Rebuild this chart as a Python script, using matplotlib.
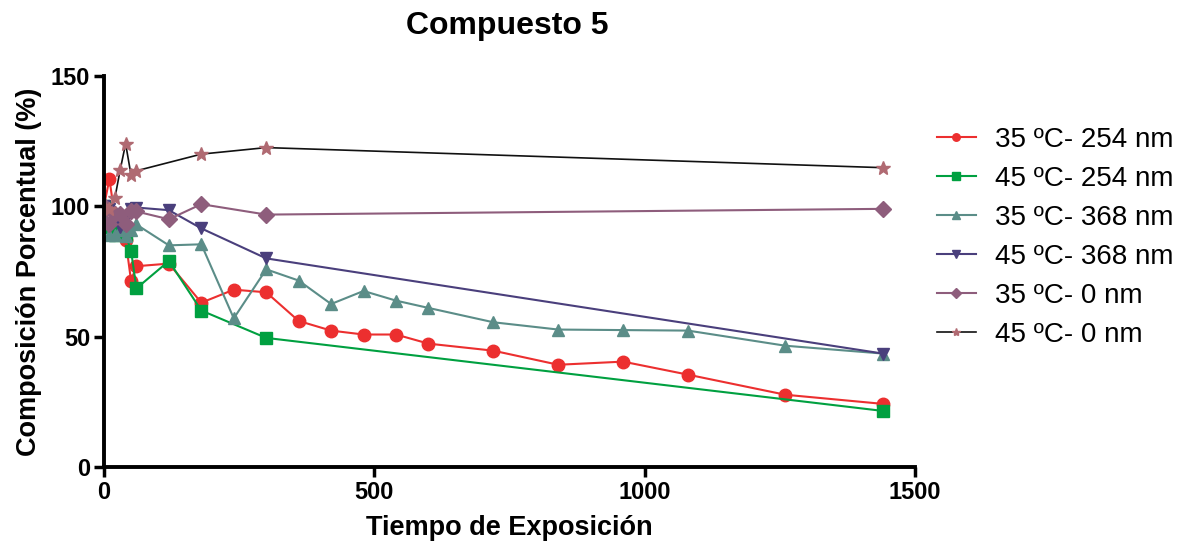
import numpy as np
import matplotlib.pyplot as plt

plt.rcParams['font.family'] = ['Liberation Sans', 'DejaVu Sans']

# data
t_red = [0, 10, 20, 30, 40, 50, 60, 120, 180, 240, 300, 360, 420, 480, 540, 600, 720, 840, 960, 1080, 1260, 1440]
y_red = [100, 110.5, 96, 91, 87, 71.5, 77, 78, 63, 68, 67, 56, 52.3, 50.8, 50.8, 47.3, 44.6, 39.2, 40.4, 35.4, 27.7, 24.2]

t_green = [0, 10, 20, 30, 40, 50, 60, 120, 180, 300, 1440]
y_green = [100, 92, 89, 90, 89, 83, 68.5, 79, 60, 49.5, 21.5]

t_teal = [0, 10, 20, 30, 40, 50, 60, 120, 180, 240, 300, 360, 420, 480, 540, 600, 720, 840, 960, 1080, 1260, 1440]
y_teal = [100, 89, 89, 91, 88.5, 91, 93, 85, 85.4, 57, 75.8, 71.5, 62.5, 67.5, 63.8, 61, 55.5, 52.7, 52.5, 52.3, 46.5, 43.5]

t_purple = [0, 10, 20, 30, 40, 50, 60, 120, 180, 300, 1440]
y_purple = [100, 99, 95, 92, 95, 99, 99.5, 98.5, 91.5, 80, 43.5]

t_diam = [0, 10, 20, 30, 40, 50, 60, 120, 180, 300, 1440]
y_diam = [100, 93, 97, 97, 93, 98, 98, 95, 100.8, 96.8, 99]

t_star = [0, 10, 20, 30, 40, 50, 60, 180, 300, 1440]
y_star = [100, 99, 103, 114, 124, 112, 113.6, 120, 122.5, 114.8]

labels = ['35 ºC- 254 nm', '45 ºC- 254 nm', '35 ºC- 368 nm',
          '45 ºC- 368 nm', '35 ºC- 0 nm', '45 ºC- 0 nm']

fig = plt.figure(figsize=(11.79, 5.5), dpi=100)
ax = fig.add_axes([0.0882, 0.151, 0.688, 0.711])

ax.plot(t_red, y_red, color='#ec2f2f', marker='o', ms=9, lw=1.5, label=labels[0])
ax.plot(t_green, y_green, color='#00a040', marker='s', ms=9, lw=1.5, label=labels[1])
ax.plot(t_teal, y_teal, color='#5b8d88', marker='^', ms=9, lw=1.5, label=labels[2])
ax.plot(t_purple, y_purple, color='#4a3f7c', marker='v', ms=9, lw=1.5, label=labels[3])
ax.plot(t_diam, y_diam, color='#8e5d7c', marker='D', ms=8, lw=1.5, label=labels[4])
ax.plot(t_star, y_star, color='#111111', marker='*', ms=10, mfc='#b06a72', mec='#b06a72', lw=1.2, label=labels[5])

ax.set_xlim(0, 1500)
ax.set_ylim(0, 150)
ax.set_xticks([0, 500, 1000, 1500])
ax.set_yticks([0, 50, 100, 150])
for s in ['top', 'right']:
    ax.spines[s].set_visible(False)
for s in ['left', 'bottom']:
    ax.spines[s].set_linewidth(2.8)
ax.tick_params(direction='out', length=7, width=2.5, labelsize=17, pad=3)
for lab in ax.get_xticklabels() + ax.get_yticklabels():
    lab.set_fontweight('bold')

ax.set_xlabel('Tiempo de Exposición', fontsize=19.5, fontweight='bold', labelpad=8)
ax.set_ylabel('Composición Porcentual (%)', fontsize=19.5, fontweight='bold', labelpad=6)
fig.suptitle('Compuesto 5', x=0.43, y=0.98, fontsize=23, fontweight='bold')

leg = fig.legend(loc='upper left', bbox_to_anchor=(0.7735, 0.815), frameon=False,
                 fontsize=20, markerscale=0.6, handlelength=1.4, handletextpad=0.7,
                 labelspacing=0.47)

fig.savefig('out.png', dpi=100)
